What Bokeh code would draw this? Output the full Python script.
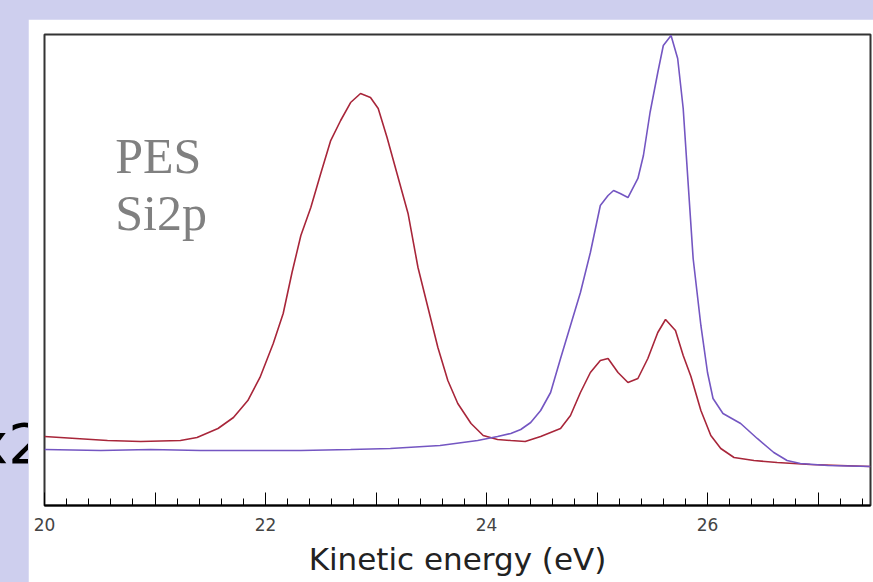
from bokeh.plotting import figure
from bokeh.models import Range1d, FixedTicker, Label, Div, Spacer
from bokeh.layouts import row, column
from bokeh.embed import file_html
from bokeh.resources import INLINE

# Kinetic energy (eV) and intensity (arb. units)
red_energy = [20.00, 20.57, 20.87, 21.23, 21.38, 21.57, 21.71, 21.84, 21.95, 22.07,
              22.16, 22.24, 22.32, 22.41, 22.50, 22.59, 22.68, 22.77, 22.86, 22.95,
              23.02, 23.10, 23.19, 23.29, 23.38, 23.47, 23.56, 23.65, 23.74, 23.86,
              23.97, 24.10, 24.22, 24.35, 24.49, 24.67, 24.76, 24.85, 24.94, 25.03,
              25.10, 25.19, 25.28, 25.37, 25.46, 25.55, 25.62, 25.71, 25.78, 25.85,
              25.94, 26.03, 26.12, 26.24, 26.42, 26.63, 26.93, 27.20, 27.475]
red_intensity = [14.65, 13.80, 13.59, 13.80, 14.44, 16.35, 18.68, 22.29, 27.18, 34.39,
                 40.76, 49.47, 57.32, 63.27, 70.49, 77.49, 81.74, 85.56, 87.47, 86.62,
                 84.29, 78.13, 70.49, 62.00, 50.53, 42.04, 33.55, 26.54, 21.66, 17.41,
                 14.86, 14.01, 13.80, 13.59, 14.65, 16.35, 19.11, 23.99, 28.24, 30.79,
                 31.21, 28.24, 26.11, 26.96, 31.21, 36.73, 39.49, 37.15, 31.85, 27.39,
                 20.17, 14.86, 12.10, 10.19, 9.55, 9.13, 8.70, 8.49, 8.28]

purple_energy = [20.00, 20.51, 20.96, 21.41, 21.86, 22.32, 22.77, 23.13, 23.58, 23.92,
                 24.10, 24.22, 24.31, 24.40, 24.49, 24.58, 24.67, 24.76, 24.85, 24.94,
                 25.03, 25.10, 25.15, 25.21, 25.28, 25.37, 25.42, 25.48, 25.55, 25.60,
                 25.67, 25.73, 25.78, 25.82, 25.87, 25.94, 26.00, 26.05, 26.14, 26.30,
                 26.45, 26.60, 26.72, 26.84, 27.09, 27.475]
purple_intensity = [11.89, 11.68, 11.89, 11.68, 11.68, 11.68, 11.89, 12.10, 12.74, 13.80,
                    14.65, 15.29, 16.14, 17.62, 20.17, 23.99, 31.21, 38.22, 45.22, 53.72,
                    63.69, 65.82, 66.88, 66.24, 65.39, 69.43, 74.31, 83.44, 91.93, 97.66,
                    99.79, 94.90, 84.29, 70.06, 52.44, 38.22, 28.24, 22.72, 19.53, 17.41,
                    14.23, 11.25, 9.55, 8.92, 8.49, 8.28]

major_ticks = [20, 21, 22, 23, 24, 25, 26, 27]
tick_labels = {20: "20", 21: "", 22: "22", 23: "", 24: "24", 25: "", 26: "26", 27: ""}
minor_ticks = [round(20 + 0.2 * i, 1) for i in range(38)]

LAVENDER = "#cecfee"

p = figure(width=845, height=563, output_backend="svg", toolbar_location=None,
           x_range=Range1d(20, 27.475), y_range=Range1d(0, 100),
           y_axis_location=None,
           min_border_left=16, min_border_right=3, min_border_top=15, min_border_bottom=77,
           background_fill_color="white", border_fill_color="white")
p.grid.visible = False
p.outline_line_color = "#333333"
p.outline_line_width = 2

p.line(red_energy, red_intensity, line_color="#a8263a", line_width=1.6)
p.line(purple_energy, purple_intensity, line_color="#7456c2", line_width=1.6)

ax = p.xaxis[0]
ax.ticker = FixedTicker(ticks=major_ticks, minor_ticks=minor_ticks)
ax.major_label_overrides = tick_labels
ax.axis_line_color = "black"
ax.axis_line_width = 2
ax.major_tick_in = 13
ax.major_tick_out = 0
ax.minor_tick_in = 7
ax.minor_tick_out = 0
ax.major_tick_line_color = "black"
ax.minor_tick_line_color = "black"
ax.major_label_text_font = "DejaVu Sans"
ax.major_label_text_font_size = "17px"
ax.major_label_text_color = "#444444"
ax.major_label_standoff = 12
ax.axis_label = "Kinetic energy (eV)"
ax.axis_label_text_font = "DejaVu Sans"
ax.axis_label_text_font_size = "31px"
ax.axis_label_text_font_style = "normal"
ax.axis_label_text_color = "#222222"
ax.axis_label_standoff = 7

for txt, yb in (("PES", 74.3), ("Si2p", 62.0)):
    p.add_layout(Label(x=20.64, y=yb, text=txt, text_font="Liberation Serif",
                       text_font_size="50px", text_color="#808080",
                       text_baseline="alphabetic", text_align="left"))

x2 = Div(text='<div style="width:28px; height:563px; overflow:hidden; margin:0; padding:0;">'
              '<div style="margin-left:-25px; padding-top:397px; white-space:nowrap; '
              'font-family:\'DejaVu Sans\'; font-size:56px; line-height:1; color:black;">x2</div></div>',
         width=28, height=563, styles={"overflow": "hidden", "margin": "0", "padding": "0"})

layout = column(Spacer(width=873, height=19), row(x2, p, spacing=0), spacing=0,
                styles={"background-color": LAVENDER})

open("out.html", "w").write(file_html(layout, INLINE))
